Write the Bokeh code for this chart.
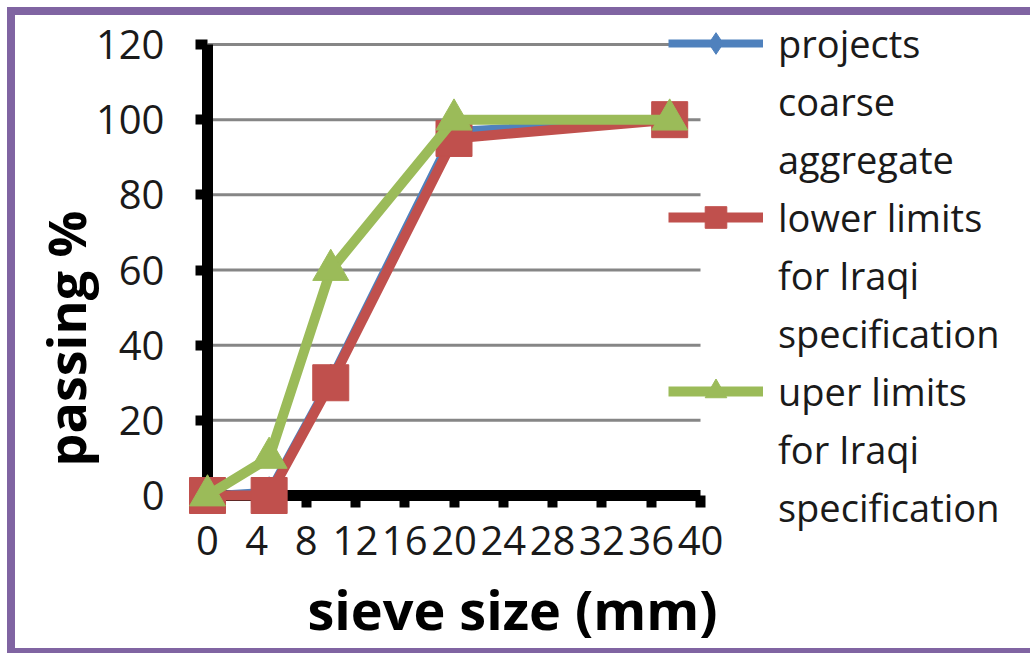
import math
from bokeh.plotting import figure
from bokeh.models import Legend, LegendItem, FixedTicker, Range1d, Label, LinearAxis
from bokeh.embed import file_html
from bokeh.resources import INLINE

# data
sieve_mm = [0, 5, 10, 20, 37.5]
project = [0, 1, 31, 97, 100]
lower_limits = [0, 0, 30, 95, 100]
upper_limits = [0, 10, 60, 100, 100]
x_ticks = [0, 4, 8, 12, 16, 20, 24, 28, 32, 36, 40]
y_ticks = [0, 20, 40, 60, 80, 100, 120]
series_lines = [["projects", "coarse", "aggregate"],
                ["lower limits", "for Iraqi", "specification"],
                ["uper limits", "for Iraqi", "specification"]]
x_title = "sieve size (mm)"
y_title = "passing %"

FONT = "Open Sans"
BLUE = "#4F81BD"
RED = "#C0504D"
GREEN = "#9BBB59"

# layout (pixels)
CANVAS_W, CANVAS_H = 1015, 633
PLOT_LEFT, PLOT_TOP = 192, 29      # position of (0, 120) inside canvas
PLOT_W, PLOT_H = 493, 451          # extent of 0..40 and 0..120
px_x = PLOT_W / (x_ticks[-1] - x_ticks[0])
px_y = PLOT_H / (y_ticks[-1] - y_ticks[0])
x_start = x_ticks[0] - PLOT_LEFT / px_x
x_end = x_start + CANVAS_W / px_x
y_end = y_ticks[-1] + PLOT_TOP / px_y
y_start = y_end - CANVAS_H / px_y

p = figure(frame_width=CANVAS_W, frame_height=CANVAS_H,
           min_border_left=0, min_border_right=0,
           min_border_top=0, min_border_bottom=0,
           x_range=Range1d(x_start, x_end), y_range=Range1d(y_start, y_end),
           output_backend="svg", toolbar_location=None,
           background_fill_color="white", border_fill_color="white",
           outline_line_color=None, x_axis_location=None, y_axis_location=None,
           styles={"margin-left": "7px", "margin-top": "7px",
                   "border-left": "8px solid #8064A2",
                   "border-top": "8px solid #8064A2",
                   "border-bottom": "5px solid #8064A2"})

xaxis = LinearAxis(fixed_location=0)
yaxis = LinearAxis(fixed_location=0)
p.add_layout(xaxis, "below")
p.add_layout(yaxis, "left")

for ax in (xaxis, yaxis):
    ax.axis_line_color = "black"
    ax.axis_line_width = 11
    ax.major_tick_line_color = "black"
    ax.major_tick_line_width = 10
    ax.major_tick_in = 0
    ax.major_tick_out = 12
    ax.minor_tick_line_color = None
    ax.major_label_text_font = FONT
    ax.major_label_text_font_size = "40px"
    ax.major_label_text_color = "#1a1a1a"

xaxis.ticker = FixedTicker(ticks=x_ticks)
xaxis.bounds = (x_ticks[0], x_ticks[-1])
xaxis.major_label_standoff = 18
yaxis.ticker = FixedTicker(ticks=y_ticks)
yaxis.bounds = (y_ticks[0], y_ticks[-1])
yaxis.major_label_standoff = 31

p.xgrid.grid_line_color = None
p.ygrid.grid_line_color = None

# horizontal gridlines spanning the 0..40 axis
n = len(y_ticks) - 1
p.segment(x0=[x_ticks[0]] * n, x1=[x_ticks[-1]] * n,
          y0=y_ticks[1:], y1=y_ticks[1:], line_color="#868686", line_width=3,
          level="underlay")

# axis titles
p.add_layout(Label(x=497, y=40, x_units="screen", y_units="screen",
                   text=x_title, text_align="center", text_baseline="middle",
                   text_font=FONT, text_font_style="bold", text_font_size="54px",
                   text_color="black"))
p.add_layout(Label(x=50, y=310, x_units="screen", y_units="screen", angle=math.pi / 2,
                   text=y_title, text_align="center", text_baseline="middle",
                   text_font=FONT, text_font_style="bold", text_font_size="52px",
                   text_color="black"))

# series
bl = p.line(sieve_mm, project, line_color=BLUE, line_width=8, level="overlay")
bm = p.scatter(sieve_mm, project, marker="diamond", size=30, fill_color=BLUE,
               line_color=BLUE, level="overlay")
rl = p.line(sieve_mm, lower_limits, line_color=RED, line_width=10, level="overlay")
rm = p.scatter(sieve_mm, lower_limits, marker="square", size=36, fill_color=RED,
               line_color=RED, level="overlay")
gl = p.line(sieve_mm, upper_limits, line_color=GREEN, line_width=10, level="overlay")
gm = p.scatter(sieve_mm, upper_limits, marker="triangle", size=36, fill_color=GREEN,
               line_color=GREEN, level="overlay")

items = []
for lines, rends in zip(series_lines, [[bl, bm], [rl, rm], [gl, gm]]):
    items.append(LegendItem(label=lines[0], renderers=rends))
    for extra in lines[1:]:
        items.append(LegendItem(label=extra, renderers=[]))

legend = Legend(items=items, location=(653, 114))
legend.background_fill_alpha = 0
legend.border_line_color = None
legend.padding = 0
legend.margin = 0
legend.spacing = 4
legend.glyph_width = 95
legend.glyph_height = 54
legend.label_standoff = 15
legend.label_height = 54
legend.label_text_font = FONT
legend.label_text_font_size = "38px"
legend.label_text_color = "#1a1a1a"
p.add_layout(legend, "center")

open("out.html", "w").write(file_html(p, INLINE))
